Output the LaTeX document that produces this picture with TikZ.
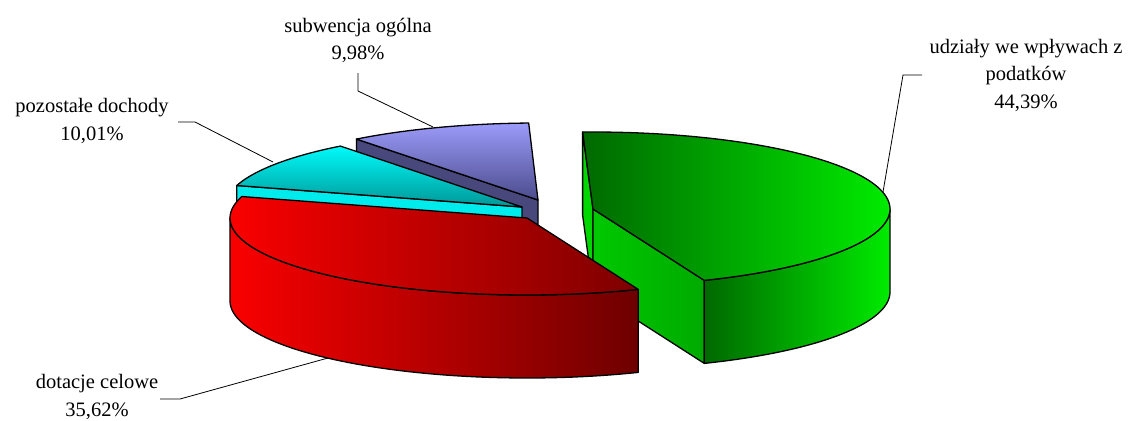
\documentclass[tikz,border=0pt]{standalone}
\usepackage{fontspec}
\setmainfont{Liberation Serif}
\newfontfamily\lblfont{Liberation Serif}
\definecolor{gDark}{RGB}{0,105,0}
\definecolor{gBright}{RGB}{0,235,0}
\definecolor{gMid}{RGB}{0,200,0}
\definecolor{gMid2}{RGB}{0,170,0}
\definecolor{gStrip}{RGB}{0,215,0}
\definecolor{rBright}{RGB}{250,0,0}
\definecolor{rDark}{RGB}{125,0,0}
\definecolor{rDark2}{RGB}{110,0,0}
\definecolor{cTop}{RGB}{0,250,250}
\definecolor{cBot}{RGB}{0,150,150}
\definecolor{cCut}{RGB}{0,235,235}
\definecolor{pTop}{RGB}{155,155,250}
\definecolor{pBot}{RGB}{75,75,140}
\definecolor{pCut}{RGB}{72,72,125}
\begin{document}
\begin{tikzpicture}[x=1pt,y=-1pt,
  face/.style={draw=black,line width=1.3pt,line join=round},
  leader/.style={draw=black,line width=0.8pt},
  lbl/.style={align=center,font=\lblfont\fontsize{20.5}{27.5}\selectfont,inner sep=0pt}]
\useasboundingbox (0,0) rectangle (1134,420);

% ---------- subwencja ogolna (purple) ----------
\filldraw[face,fill=pCut] (538,200) -- (356.4,139.1) -- (356.4,222.1) -- (538,283) -- cycle;
\shade[face,top color=pTop,bottom color=pBot]
  (538,200) -- plot[domain=91.8:127.7,samples=30,variable=\t] ({538+297*cos(\t)},{200-77*sin(\t)}) -- cycle;

% ---------- pozostale dochody (cyan) ----------
\filldraw[face,fill=cCut] (522,207) -- (236.8,185.5) -- (236.8,268.5) -- (522,290) -- cycle;
\shade[face,top color=cTop,bottom color=cBot]
  (522,207) -- plot[domain=127.7:163.8,samples=30,variable=\t] ({522+297*cos(\t)},{207-77*sin(\t)}) -- cycle;

% ---------- udzialy (green) ----------
\filldraw[face,fill=gStrip] (593,209) -- (582.6,132) -- (582.6,215) -- (593,292) -- cycle;
\shade[face,left color=gMid,right color=gMid2]
  (593,209) -- (704.3,280.4) -- (704.3,363.4) -- (593,292) -- cycle;
\shade[face,left color=gDark,right color=gBright]
  plot[domain=-68:0,samples=40,variable=\t] ({593+297*cos(\t)},{209-77*sin(\t)})
  -- plot[domain=0:68,samples=40,variable=\t] ({593+297*cos(-\t)},{292-77*sin(-\t)}) -- cycle;
\shade[face,left color=gDark,right color=gBright]
  (593,209) -- plot[domain=-68:92,samples=90,variable=\t] ({593+297*cos(\t)},{209-77*sin(\t)}) -- cycle;

% ---------- dotacje celowe (red) ----------
\shade[face,left color=rBright,right color=rDark2]
  plot[domain=180:292,samples=60,variable=\t] ({527+297*cos(\t)},{218-77*sin(\t)})
  -- plot[domain=-292:-180,samples=60,variable=\t] ({527+297*cos(-\t)},{301-77*sin(-\t)}) -- cycle;
\shade[face,left color=rBright,right color=rDark]
  (527,218) -- plot[domain=163.8:292,samples=70,variable=\t] ({527+297*cos(\t)},{218-77*sin(\t)}) -- cycle;

% ---------- labels ----------
\node[lbl] (lsub) at (358,40.5) {subwencja ogólna\\9,98\%};
\node[lbl] (lpoz) at (92,121) {pozostałe dochody\\10,01\%};
\node[lbl] (ludz) at (1026,75) {udziały we wpływach z\\podatków\\44,39\%};
\node[lbl] (ldot) at (97,397) {dotacje celowe\\35,62\%};

% ---------- leaders ----------
\coordinate (sA) at (358,73); \coordinate (sB) at (358,91); \coordinate (sC) at (433,127);
\coordinate (pA) at (178,122); \coordinate (pB) at (195,122); \coordinate (pC) at (273,162);
\coordinate (uA) at (922,75); \coordinate (uB) at (903,75); \coordinate (uC) at (883,192);
\coordinate (dA) at (160,399); \coordinate (dB) at (180,399); \coordinate (dC) at (328,358);
\draw[leader] (sA) -- (sB) -- (sC);
\draw[leader] (pA) -- (pB) -- (pC);
\draw[leader] (uA) -- (uB) -- (uC);
\draw[leader] (dA) -- (dB) -- (dC);
\end{tikzpicture}
\end{document}
